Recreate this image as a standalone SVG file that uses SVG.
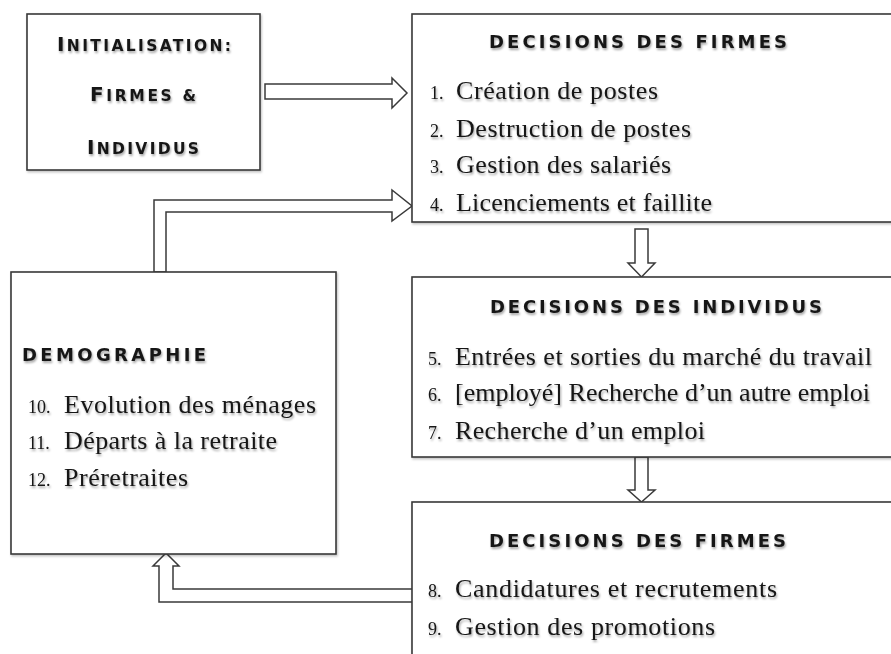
<svg xmlns="http://www.w3.org/2000/svg" width="891" height="654" viewBox="0 0 891 654">
<defs>
<filter id="sh" x="-10%" y="-30%" width="120%" height="160%">
<feDropShadow dx="1" dy="2" stdDeviation="1.3" flood-color="#000" flood-opacity="0.35"/>
</filter>
<filter id="bsh" x="-5%" y="-5%" width="110%" height="110%">
<feDropShadow dx="1" dy="1.5" stdDeviation="1" flood-color="#000" flood-opacity="0.25"/>
</filter>
</defs>
<style>
.box{fill:#fff;stroke:#3a3a3a;stroke-width:1.6}
.arr{fill:#fff;stroke:#3a3a3a;stroke-width:1.5;stroke-linejoin:miter}
.cap{font-family:"DejaVu Sans",sans-serif;font-weight:bold;font-size:18px;fill:#151515}
.big{font-size:20px}
.sm{font-size:15.5px}
.it{font-family:"Liberation Serif",serif;font-size:26px;fill:#151515}
.num{font-family:"Liberation Serif",serif;font-size:18px;fill:#151515}
.t{filter:url(#sh)}
</style>
<rect width="891" height="654" fill="#fff"/>

<g id="connectors">
<polygon class="arr" points="265,84 392,84 392,78 407,93 392,108 392,99 265,99"/>
<polygon class="arr" points="154,272 154,200 392,200 392,190 412,206 392,221 392,212 166,212 166,272"/>
<polygon class="arr" points="635,229 648,229 648,263 655,263 641.5,277 628,263 635,263"/>
<polygon class="arr" points="635,457 648,457 648,490 655,490 641.5,502 628,490 635,490"/>
<polygon class="arr" points="413,589 173,589 173,566 179,566 166,553 153,566 159,566 159,602 413,602"/>
</g>

<g id="init">
<rect class="box" filter="url(#bsh)" x="27" y="14" width="233" height="156"/>
<g class="t">
<text class="cap" x="57" y="51" textLength="174" lengthAdjust="spacing"><tspan class="big">I</tspan><tspan class="sm">NITIALISATION:</tspan></text>
<text class="cap" x="90" y="101" textLength="106" lengthAdjust="spacing"><tspan class="big">F</tspan><tspan class="sm">IRMES &amp;</tspan></text>
<text class="cap" x="87" y="154" textLength="112" lengthAdjust="spacing"><tspan class="big">I</tspan><tspan class="sm">NDIVIDUS</tspan></text>
</g>
</g>

<g id="firmes1">
<rect class="box" filter="url(#bsh)" x="412" y="14" width="500" height="208"/>
<g class="t">
<text class="cap" x="489" y="48" textLength="298" lengthAdjust="spacing">DECISIONS DES FIRMES</text>
<text class="num" x="430" y="98.5">1.</text>
<text class="it" x="456" y="98.5" textLength="202" lengthAdjust="spacing">Création de postes</text>
<text class="num" x="430" y="136.5">2.</text>
<text class="it" x="456" y="136.5" textLength="235" lengthAdjust="spacing">Destruction de postes</text>
<text class="num" x="430" y="173">3.</text>
<text class="it" x="456" y="173" textLength="215" lengthAdjust="spacing">Gestion des salariés</text>
<text class="num" x="430" y="211">4.</text>
<text class="it" x="456" y="211" textLength="256" lengthAdjust="spacing">Licenciements et faillite</text>
</g>
</g>

<g id="individus">
<rect class="box" filter="url(#bsh)" x="412" y="277" width="500" height="180"/>
<g class="t">
<text class="cap" x="490" y="313" textLength="332" lengthAdjust="spacing">DECISIONS DES INDIVIDUS</text>
<text class="num" x="428" y="365">5.</text>
<text class="it" x="455" y="365" textLength="417" lengthAdjust="spacing">Entrées et sorties du marché du travail</text>
<text class="num" x="428" y="401">6.</text>
<text class="it" x="455" y="401" textLength="415" lengthAdjust="spacing">[employé] Recherche d’un autre emploi</text>
<text class="num" x="428" y="439">7.</text>
<text class="it" x="455" y="439" textLength="250" lengthAdjust="spacing">Recherche d’un emploi</text>
</g>
</g>

<g id="firmes2">
<rect class="box" filter="url(#bsh)" x="412" y="502" width="500" height="200"/>
<g class="t">
<text class="cap" x="489" y="547" textLength="297" lengthAdjust="spacing">DECISIONS DES FIRMES</text>
<text class="num" x="428" y="597">8.</text>
<text class="it" x="455" y="597" textLength="322" lengthAdjust="spacing">Candidatures et recrutements</text>
<text class="num" x="428" y="635">9.</text>
<text class="it" x="455" y="635" textLength="260" lengthAdjust="spacing">Gestion des promotions</text>
</g>
</g>

<g id="demographie">
<rect class="box" filter="url(#bsh)" x="11" y="272" width="325" height="282"/>
<g class="t">
<text class="cap" x="22" y="361" textLength="184" lengthAdjust="spacing">DEMOGRAPHIE</text>
<text class="num" x="28" y="413">10.</text>
<text class="it" x="64" y="413" textLength="252" lengthAdjust="spacing">Evolution des ménages</text>
<text class="num" x="28" y="448.5">11.</text>
<text class="it" x="64" y="448.5" textLength="213" lengthAdjust="spacing">Départs à la retraite</text>
<text class="num" x="28" y="486">12.</text>
<text class="it" x="64" y="486" textLength="124" lengthAdjust="spacing">Préretraites</text>
</g>
</g>
</svg>
